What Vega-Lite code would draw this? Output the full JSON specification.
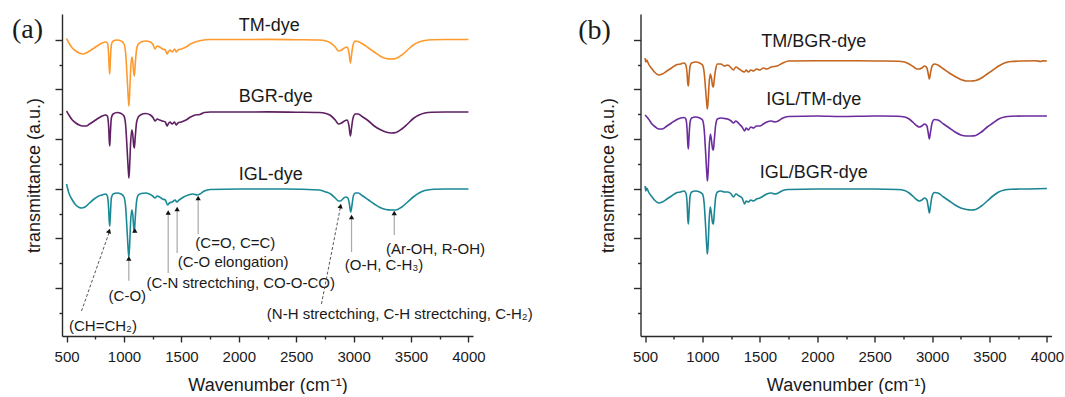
{
  "$schema": "https://vega.github.io/schema/vega-lite/v6.json",
  "background": "white",
  "padding": {"left": 12, "top": 14, "right": 0, "bottom": 0},
  "config": {
    "font": "Liberation Sans",
    "view": {"stroke": null},
    "axis": {"grid": false, "domainColor": "#2a2a2a", "tickColor": "#2a2a2a", "domainWidth": 1.4, "tickWidth": 1.4, "labelColor": "#1a1a1a", "titleColor": "#1a1a1a", "labelFontSize": 15, "titleFontSize": 18, "titleFontWeight": "normal"}
  },
  "resolve": {"scale": {"color": "independent"}},
  "datasets": {
    "spectraA": [
      {"sample":"TM-dye","wavenumber":500,"transmittance":2.975},{"sample":"TM-dye","wavenumber":520,"transmittance":2.93},{"sample":"TM-dye","wavenumber":550,"transmittance":2.88},{"sample":"TM-dye","wavenumber":580,"transmittance":2.85},{"sample":"TM-dye","wavenumber":610,"transmittance":2.83},{"sample":"TM-dye","wavenumber":640,"transmittance":2.82},{"sample":"TM-dye","wavenumber":670,"transmittance":2.83},{"sample":"TM-dye","wavenumber":700,"transmittance":2.85},{"sample":"TM-dye","wavenumber":740,"transmittance":2.88},{"sample":"TM-dye","wavenumber":780,"transmittance":2.91},{"sample":"TM-dye","wavenumber":810,"transmittance":2.93},{"sample":"TM-dye","wavenumber":840,"transmittance":2.94},{"sample":"TM-dye","wavenumber":855,"transmittance":2.93},{"sample":"TM-dye","wavenumber":866,"transmittance":2.82},{"sample":"TM-dye","wavenumber":872,"transmittance":2.67},{"sample":"TM-dye","wavenumber":876,"transmittance":2.62},{"sample":"TM-dye","wavenumber":881,"transmittance":2.75},{"sample":"TM-dye","wavenumber":890,"transmittance":2.91},{"sample":"TM-dye","wavenumber":905,"transmittance":2.95},{"sample":"TM-dye","wavenumber":940,"transmittance":2.96},{"sample":"TM-dye","wavenumber":975,"transmittance":2.95},{"sample":"TM-dye","wavenumber":1000,"transmittance":2.92},{"sample":"TM-dye","wavenumber":1015,"transmittance":2.82},{"sample":"TM-dye","wavenumber":1028,"transmittance":2.57},{"sample":"TM-dye","wavenumber":1038,"transmittance":2.37},{"sample":"TM-dye","wavenumber":1043,"transmittance":2.30},{"sample":"TM-dye","wavenumber":1050,"transmittance":2.45},{"sample":"TM-dye","wavenumber":1058,"transmittance":2.67},{"sample":"TM-dye","wavenumber":1068,"transmittance":2.79},{"sample":"TM-dye","wavenumber":1076,"transmittance":2.75},{"sample":"TM-dye","wavenumber":1085,"transmittance":2.63},{"sample":"TM-dye","wavenumber":1090,"transmittance":2.60},{"sample":"TM-dye","wavenumber":1098,"transmittance":2.72},{"sample":"TM-dye","wavenumber":1110,"transmittance":2.87},{"sample":"TM-dye","wavenumber":1125,"transmittance":2.92},{"sample":"TM-dye","wavenumber":1150,"transmittance":2.94},{"sample":"TM-dye","wavenumber":1190,"transmittance":2.95},{"sample":"TM-dye","wavenumber":1230,"transmittance":2.94},{"sample":"TM-dye","wavenumber":1255,"transmittance":2.91},{"sample":"TM-dye","wavenumber":1270,"transmittance":2.87},{"sample":"TM-dye","wavenumber":1290,"transmittance":2.90},{"sample":"TM-dye","wavenumber":1310,"transmittance":2.89},{"sample":"TM-dye","wavenumber":1335,"transmittance":2.87},{"sample":"TM-dye","wavenumber":1360,"transmittance":2.86},{"sample":"TM-dye","wavenumber":1375,"transmittance":2.82},{"sample":"TM-dye","wavenumber":1385,"transmittance":2.84},{"sample":"TM-dye","wavenumber":1400,"transmittance":2.86},{"sample":"TM-dye","wavenumber":1420,"transmittance":2.84},{"sample":"TM-dye","wavenumber":1440,"transmittance":2.87},{"sample":"TM-dye","wavenumber":1455,"transmittance":2.84},{"sample":"TM-dye","wavenumber":1470,"transmittance":2.86},{"sample":"TM-dye","wavenumber":1500,"transmittance":2.87},{"sample":"TM-dye","wavenumber":1540,"transmittance":2.89},{"sample":"TM-dye","wavenumber":1580,"transmittance":2.92},{"sample":"TM-dye","wavenumber":1620,"transmittance":2.94},{"sample":"TM-dye","wavenumber":1670,"transmittance":2.955},{"sample":"TM-dye","wavenumber":1750,"transmittance":2.965},{"sample":"TM-dye","wavenumber":2000,"transmittance":2.965},{"sample":"TM-dye","wavenumber":2250,"transmittance":2.966},{"sample":"TM-dye","wavenumber":2500,"transmittance":2.963},{"sample":"TM-dye","wavenumber":2700,"transmittance":2.96},{"sample":"TM-dye","wavenumber":2760,"transmittance":2.95},{"sample":"TM-dye","wavenumber":2800,"transmittance":2.93},{"sample":"TM-dye","wavenumber":2840,"transmittance":2.89},{"sample":"TM-dye","wavenumber":2870,"transmittance":2.85},{"sample":"TM-dye","wavenumber":2895,"transmittance":2.86},{"sample":"TM-dye","wavenumber":2920,"transmittance":2.88},{"sample":"TM-dye","wavenumber":2945,"transmittance":2.89},{"sample":"TM-dye","wavenumber":2960,"transmittance":2.83},{"sample":"TM-dye","wavenumber":2972,"transmittance":2.73},{"sample":"TM-dye","wavenumber":2982,"transmittance":2.81},{"sample":"TM-dye","wavenumber":2995,"transmittance":2.91},{"sample":"TM-dye","wavenumber":3015,"transmittance":2.95},{"sample":"TM-dye","wavenumber":3040,"transmittance":2.945},{"sample":"TM-dye","wavenumber":3080,"transmittance":2.92},{"sample":"TM-dye","wavenumber":3130,"transmittance":2.88},{"sample":"TM-dye","wavenumber":3180,"transmittance":2.84},{"sample":"TM-dye","wavenumber":3230,"transmittance":2.80},{"sample":"TM-dye","wavenumber":3280,"transmittance":2.775},{"sample":"TM-dye","wavenumber":3330,"transmittance":2.77},{"sample":"TM-dye","wavenumber":3370,"transmittance":2.775},{"sample":"TM-dye","wavenumber":3420,"transmittance":2.81},{"sample":"TM-dye","wavenumber":3470,"transmittance":2.86},{"sample":"TM-dye","wavenumber":3520,"transmittance":2.91},{"sample":"TM-dye","wavenumber":3570,"transmittance":2.94},{"sample":"TM-dye","wavenumber":3620,"transmittance":2.955},{"sample":"TM-dye","wavenumber":3680,"transmittance":2.963},{"sample":"TM-dye","wavenumber":3800,"transmittance":2.965},{"sample":"TM-dye","wavenumber":4000,"transmittance":2.965},
      {"sample":"BGR-dye","wavenumber":500,"transmittance":2.25},{"sample":"BGR-dye","wavenumber":520,"transmittance":2.21},{"sample":"BGR-dye","wavenumber":550,"transmittance":2.16},{"sample":"BGR-dye","wavenumber":580,"transmittance":2.13},{"sample":"BGR-dye","wavenumber":610,"transmittance":2.11},{"sample":"BGR-dye","wavenumber":640,"transmittance":2.10},{"sample":"BGR-dye","wavenumber":670,"transmittance":2.10},{"sample":"BGR-dye","wavenumber":700,"transmittance":2.12},{"sample":"BGR-dye","wavenumber":740,"transmittance":2.15},{"sample":"BGR-dye","wavenumber":780,"transmittance":2.18},{"sample":"BGR-dye","wavenumber":810,"transmittance":2.20},{"sample":"BGR-dye","wavenumber":840,"transmittance":2.21},{"sample":"BGR-dye","wavenumber":855,"transmittance":2.20},{"sample":"BGR-dye","wavenumber":866,"transmittance":2.10},{"sample":"BGR-dye","wavenumber":872,"transmittance":1.95},{"sample":"BGR-dye","wavenumber":876,"transmittance":1.90},{"sample":"BGR-dye","wavenumber":881,"transmittance":2.02},{"sample":"BGR-dye","wavenumber":890,"transmittance":2.18},{"sample":"BGR-dye","wavenumber":905,"transmittance":2.22},{"sample":"BGR-dye","wavenumber":940,"transmittance":2.235},{"sample":"BGR-dye","wavenumber":975,"transmittance":2.225},{"sample":"BGR-dye","wavenumber":1000,"transmittance":2.20},{"sample":"BGR-dye","wavenumber":1015,"transmittance":2.10},{"sample":"BGR-dye","wavenumber":1028,"transmittance":1.85},{"sample":"BGR-dye","wavenumber":1038,"transmittance":1.65},{"sample":"BGR-dye","wavenumber":1043,"transmittance":1.58},{"sample":"BGR-dye","wavenumber":1050,"transmittance":1.72},{"sample":"BGR-dye","wavenumber":1058,"transmittance":1.94},{"sample":"BGR-dye","wavenumber":1068,"transmittance":2.06},{"sample":"BGR-dye","wavenumber":1076,"transmittance":2.02},{"sample":"BGR-dye","wavenumber":1085,"transmittance":1.90},{"sample":"BGR-dye","wavenumber":1090,"transmittance":1.88},{"sample":"BGR-dye","wavenumber":1098,"transmittance":1.99},{"sample":"BGR-dye","wavenumber":1110,"transmittance":2.14},{"sample":"BGR-dye","wavenumber":1125,"transmittance":2.19},{"sample":"BGR-dye","wavenumber":1150,"transmittance":2.215},{"sample":"BGR-dye","wavenumber":1190,"transmittance":2.225},{"sample":"BGR-dye","wavenumber":1230,"transmittance":2.21},{"sample":"BGR-dye","wavenumber":1255,"transmittance":2.18},{"sample":"BGR-dye","wavenumber":1270,"transmittance":2.15},{"sample":"BGR-dye","wavenumber":1290,"transmittance":2.17},{"sample":"BGR-dye","wavenumber":1310,"transmittance":2.16},{"sample":"BGR-dye","wavenumber":1335,"transmittance":2.15},{"sample":"BGR-dye","wavenumber":1360,"transmittance":2.14},{"sample":"BGR-dye","wavenumber":1375,"transmittance":2.10},{"sample":"BGR-dye","wavenumber":1385,"transmittance":2.12},{"sample":"BGR-dye","wavenumber":1400,"transmittance":2.14},{"sample":"BGR-dye","wavenumber":1420,"transmittance":2.12},{"sample":"BGR-dye","wavenumber":1440,"transmittance":2.14},{"sample":"BGR-dye","wavenumber":1455,"transmittance":2.11},{"sample":"BGR-dye","wavenumber":1470,"transmittance":2.13},{"sample":"BGR-dye","wavenumber":1500,"transmittance":2.14},{"sample":"BGR-dye","wavenumber":1540,"transmittance":2.16},{"sample":"BGR-dye","wavenumber":1580,"transmittance":2.19},{"sample":"BGR-dye","wavenumber":1620,"transmittance":2.21},{"sample":"BGR-dye","wavenumber":1660,"transmittance":2.215},{"sample":"BGR-dye","wavenumber":1700,"transmittance":2.235},{"sample":"BGR-dye","wavenumber":1750,"transmittance":2.24},{"sample":"BGR-dye","wavenumber":2000,"transmittance":2.24},{"sample":"BGR-dye","wavenumber":2250,"transmittance":2.241},{"sample":"BGR-dye","wavenumber":2500,"transmittance":2.238},{"sample":"BGR-dye","wavenumber":2700,"transmittance":2.235},{"sample":"BGR-dye","wavenumber":2760,"transmittance":2.225},{"sample":"BGR-dye","wavenumber":2800,"transmittance":2.205},{"sample":"BGR-dye","wavenumber":2840,"transmittance":2.16},{"sample":"BGR-dye","wavenumber":2870,"transmittance":2.12},{"sample":"BGR-dye","wavenumber":2895,"transmittance":2.13},{"sample":"BGR-dye","wavenumber":2920,"transmittance":2.15},{"sample":"BGR-dye","wavenumber":2945,"transmittance":2.16},{"sample":"BGR-dye","wavenumber":2960,"transmittance":2.10},{"sample":"BGR-dye","wavenumber":2972,"transmittance":2.00},{"sample":"BGR-dye","wavenumber":2982,"transmittance":2.08},{"sample":"BGR-dye","wavenumber":2995,"transmittance":2.18},{"sample":"BGR-dye","wavenumber":3015,"transmittance":2.22},{"sample":"BGR-dye","wavenumber":3040,"transmittance":2.22},{"sample":"BGR-dye","wavenumber":3080,"transmittance":2.19},{"sample":"BGR-dye","wavenumber":3130,"transmittance":2.15},{"sample":"BGR-dye","wavenumber":3180,"transmittance":2.10},{"sample":"BGR-dye","wavenumber":3230,"transmittance":2.065},{"sample":"BGR-dye","wavenumber":3280,"transmittance":2.04},{"sample":"BGR-dye","wavenumber":3330,"transmittance":2.03},{"sample":"BGR-dye","wavenumber":3370,"transmittance":2.035},{"sample":"BGR-dye","wavenumber":3420,"transmittance":2.07},{"sample":"BGR-dye","wavenumber":3470,"transmittance":2.12},{"sample":"BGR-dye","wavenumber":3520,"transmittance":2.175},{"sample":"BGR-dye","wavenumber":3570,"transmittance":2.21},{"sample":"BGR-dye","wavenumber":3620,"transmittance":2.23},{"sample":"BGR-dye","wavenumber":3680,"transmittance":2.238},{"sample":"BGR-dye","wavenumber":3800,"transmittance":2.24},{"sample":"BGR-dye","wavenumber":4000,"transmittance":2.24},
      {"sample":"IGL-dye","wavenumber":500,"transmittance":1.52},{"sample":"IGL-dye","wavenumber":510,"transmittance":1.47},{"sample":"IGL-dye","wavenumber":520,"transmittance":1.43},{"sample":"IGL-dye","wavenumber":550,"transmittance":1.36},{"sample":"IGL-dye","wavenumber":580,"transmittance":1.31},{"sample":"IGL-dye","wavenumber":610,"transmittance":1.285},{"sample":"IGL-dye","wavenumber":630,"transmittance":1.28},{"sample":"IGL-dye","wavenumber":660,"transmittance":1.29},{"sample":"IGL-dye","wavenumber":700,"transmittance":1.33},{"sample":"IGL-dye","wavenumber":740,"transmittance":1.37},{"sample":"IGL-dye","wavenumber":780,"transmittance":1.40},{"sample":"IGL-dye","wavenumber":810,"transmittance":1.41},{"sample":"IGL-dye","wavenumber":840,"transmittance":1.42},{"sample":"IGL-dye","wavenumber":855,"transmittance":1.40},{"sample":"IGL-dye","wavenumber":866,"transmittance":1.28},{"sample":"IGL-dye","wavenumber":872,"transmittance":1.14},{"sample":"IGL-dye","wavenumber":876,"transmittance":1.10},{"sample":"IGL-dye","wavenumber":881,"transmittance":1.20},{"sample":"IGL-dye","wavenumber":890,"transmittance":1.38},{"sample":"IGL-dye","wavenumber":905,"transmittance":1.42},{"sample":"IGL-dye","wavenumber":940,"transmittance":1.43},{"sample":"IGL-dye","wavenumber":975,"transmittance":1.42},{"sample":"IGL-dye","wavenumber":1000,"transmittance":1.39},{"sample":"IGL-dye","wavenumber":1015,"transmittance":1.28},{"sample":"IGL-dye","wavenumber":1028,"transmittance":1.03},{"sample":"IGL-dye","wavenumber":1038,"transmittance":0.84},{"sample":"IGL-dye","wavenumber":1043,"transmittance":0.79},{"sample":"IGL-dye","wavenumber":1050,"transmittance":0.93},{"sample":"IGL-dye","wavenumber":1058,"transmittance":1.15},{"sample":"IGL-dye","wavenumber":1068,"transmittance":1.26},{"sample":"IGL-dye","wavenumber":1076,"transmittance":1.22},{"sample":"IGL-dye","wavenumber":1085,"transmittance":1.08},{"sample":"IGL-dye","wavenumber":1090,"transmittance":1.04},{"sample":"IGL-dye","wavenumber":1098,"transmittance":1.18},{"sample":"IGL-dye","wavenumber":1110,"transmittance":1.35},{"sample":"IGL-dye","wavenumber":1125,"transmittance":1.41},{"sample":"IGL-dye","wavenumber":1150,"transmittance":1.425},{"sample":"IGL-dye","wavenumber":1190,"transmittance":1.43},{"sample":"IGL-dye","wavenumber":1220,"transmittance":1.42},{"sample":"IGL-dye","wavenumber":1250,"transmittance":1.40},{"sample":"IGL-dye","wavenumber":1270,"transmittance":1.38},{"sample":"IGL-dye","wavenumber":1290,"transmittance":1.40},{"sample":"IGL-dye","wavenumber":1310,"transmittance":1.39},{"sample":"IGL-dye","wavenumber":1335,"transmittance":1.37},{"sample":"IGL-dye","wavenumber":1360,"transmittance":1.36},{"sample":"IGL-dye","wavenumber":1380,"transmittance":1.31},{"sample":"IGL-dye","wavenumber":1395,"transmittance":1.33},{"sample":"IGL-dye","wavenumber":1420,"transmittance":1.34},{"sample":"IGL-dye","wavenumber":1445,"transmittance":1.36},{"sample":"IGL-dye","wavenumber":1460,"transmittance":1.34},{"sample":"IGL-dye","wavenumber":1480,"transmittance":1.36},{"sample":"IGL-dye","wavenumber":1520,"transmittance":1.39},{"sample":"IGL-dye","wavenumber":1560,"transmittance":1.41},{"sample":"IGL-dye","wavenumber":1600,"transmittance":1.42},{"sample":"IGL-dye","wavenumber":1640,"transmittance":1.41},{"sample":"IGL-dye","wavenumber":1660,"transmittance":1.42},{"sample":"IGL-dye","wavenumber":1700,"transmittance":1.45},{"sample":"IGL-dye","wavenumber":1750,"transmittance":1.465},{"sample":"IGL-dye","wavenumber":2000,"transmittance":1.47},{"sample":"IGL-dye","wavenumber":2400,"transmittance":1.47},{"sample":"IGL-dye","wavenumber":2700,"transmittance":1.46},{"sample":"IGL-dye","wavenumber":2760,"transmittance":1.44},{"sample":"IGL-dye","wavenumber":2800,"transmittance":1.42},{"sample":"IGL-dye","wavenumber":2840,"transmittance":1.38},{"sample":"IGL-dye","wavenumber":2870,"transmittance":1.35},{"sample":"IGL-dye","wavenumber":2887,"transmittance":1.35},{"sample":"IGL-dye","wavenumber":2905,"transmittance":1.37},{"sample":"IGL-dye","wavenumber":2930,"transmittance":1.39},{"sample":"IGL-dye","wavenumber":2950,"transmittance":1.38},{"sample":"IGL-dye","wavenumber":2962,"transmittance":1.33},{"sample":"IGL-dye","wavenumber":2975,"transmittance":1.24},{"sample":"IGL-dye","wavenumber":2985,"transmittance":1.30},{"sample":"IGL-dye","wavenumber":2998,"transmittance":1.40},{"sample":"IGL-dye","wavenumber":3015,"transmittance":1.43},{"sample":"IGL-dye","wavenumber":3040,"transmittance":1.43},{"sample":"IGL-dye","wavenumber":3080,"transmittance":1.40},{"sample":"IGL-dye","wavenumber":3130,"transmittance":1.36},{"sample":"IGL-dye","wavenumber":3180,"transmittance":1.32},{"sample":"IGL-dye","wavenumber":3230,"transmittance":1.285},{"sample":"IGL-dye","wavenumber":3280,"transmittance":1.265},{"sample":"IGL-dye","wavenumber":3330,"transmittance":1.26},{"sample":"IGL-dye","wavenumber":3370,"transmittance":1.26},{"sample":"IGL-dye","wavenumber":3420,"transmittance":1.29},{"sample":"IGL-dye","wavenumber":3470,"transmittance":1.34},{"sample":"IGL-dye","wavenumber":3520,"transmittance":1.39},{"sample":"IGL-dye","wavenumber":3570,"transmittance":1.43},{"sample":"IGL-dye","wavenumber":3620,"transmittance":1.455},{"sample":"IGL-dye","wavenumber":3700,"transmittance":1.468},{"sample":"IGL-dye","wavenumber":3800,"transmittance":1.47},{"sample":"IGL-dye","wavenumber":4000,"transmittance":1.47}
    ],
    "spectraB": [
      {"sample":"TM/BGR-dye","wavenumber":500,"transmittance":2.78},{"sample":"TM/BGR-dye","wavenumber":505,"transmittance":2.74},{"sample":"TM/BGR-dye","wavenumber":515,"transmittance":2.76},{"sample":"TM/BGR-dye","wavenumber":530,"transmittance":2.72},{"sample":"TM/BGR-dye","wavenumber":560,"transmittance":2.67},{"sample":"TM/BGR-dye","wavenumber":590,"transmittance":2.63},{"sample":"TM/BGR-dye","wavenumber":620,"transmittance":2.61},{"sample":"TM/BGR-dye","wavenumber":650,"transmittance":2.62},{"sample":"TM/BGR-dye","wavenumber":690,"transmittance":2.65},{"sample":"TM/BGR-dye","wavenumber":730,"transmittance":2.68},{"sample":"TM/BGR-dye","wavenumber":770,"transmittance":2.71},{"sample":"TM/BGR-dye","wavenumber":810,"transmittance":2.72},{"sample":"TM/BGR-dye","wavenumber":840,"transmittance":2.73},{"sample":"TM/BGR-dye","wavenumber":855,"transmittance":2.71},{"sample":"TM/BGR-dye","wavenumber":866,"transmittance":2.62},{"sample":"TM/BGR-dye","wavenumber":872,"transmittance":2.52},{"sample":"TM/BGR-dye","wavenumber":877,"transmittance":2.50},{"sample":"TM/BGR-dye","wavenumber":882,"transmittance":2.58},{"sample":"TM/BGR-dye","wavenumber":892,"transmittance":2.70},{"sample":"TM/BGR-dye","wavenumber":905,"transmittance":2.73},{"sample":"TM/BGR-dye","wavenumber":940,"transmittance":2.74},{"sample":"TM/BGR-dye","wavenumber":975,"transmittance":2.73},{"sample":"TM/BGR-dye","wavenumber":1000,"transmittance":2.71},{"sample":"TM/BGR-dye","wavenumber":1015,"transmittance":2.63},{"sample":"TM/BGR-dye","wavenumber":1028,"transmittance":2.45},{"sample":"TM/BGR-dye","wavenumber":1038,"transmittance":2.31},{"sample":"TM/BGR-dye","wavenumber":1043,"transmittance":2.27},{"sample":"TM/BGR-dye","wavenumber":1050,"transmittance":2.37},{"sample":"TM/BGR-dye","wavenumber":1058,"transmittance":2.53},{"sample":"TM/BGR-dye","wavenumber":1068,"transmittance":2.62},{"sample":"TM/BGR-dye","wavenumber":1078,"transmittance":2.58},{"sample":"TM/BGR-dye","wavenumber":1088,"transmittance":2.50},{"sample":"TM/BGR-dye","wavenumber":1095,"transmittance":2.49},{"sample":"TM/BGR-dye","wavenumber":1102,"transmittance":2.56},{"sample":"TM/BGR-dye","wavenumber":1115,"transmittance":2.67},{"sample":"TM/BGR-dye","wavenumber":1130,"transmittance":2.72},{"sample":"TM/BGR-dye","wavenumber":1160,"transmittance":2.72},{"sample":"TM/BGR-dye","wavenumber":1190,"transmittance":2.70},{"sample":"TM/BGR-dye","wavenumber":1220,"transmittance":2.71},{"sample":"TM/BGR-dye","wavenumber":1250,"transmittance":2.68},{"sample":"TM/BGR-dye","wavenumber":1270,"transmittance":2.66},{"sample":"TM/BGR-dye","wavenumber":1290,"transmittance":2.69},{"sample":"TM/BGR-dye","wavenumber":1320,"transmittance":2.67},{"sample":"TM/BGR-dye","wavenumber":1345,"transmittance":2.65},{"sample":"TM/BGR-dye","wavenumber":1367,"transmittance":2.64},{"sample":"TM/BGR-dye","wavenumber":1380,"transmittance":2.66},{"sample":"TM/BGR-dye","wavenumber":1400,"transmittance":2.64},{"sample":"TM/BGR-dye","wavenumber":1420,"transmittance":2.66},{"sample":"TM/BGR-dye","wavenumber":1445,"transmittance":2.65},{"sample":"TM/BGR-dye","wavenumber":1470,"transmittance":2.67},{"sample":"TM/BGR-dye","wavenumber":1500,"transmittance":2.66},{"sample":"TM/BGR-dye","wavenumber":1530,"transmittance":2.68},{"sample":"TM/BGR-dye","wavenumber":1560,"transmittance":2.67},{"sample":"TM/BGR-dye","wavenumber":1600,"transmittance":2.69},{"sample":"TM/BGR-dye","wavenumber":1650,"transmittance":2.70},{"sample":"TM/BGR-dye","wavenumber":1700,"transmittance":2.73},{"sample":"TM/BGR-dye","wavenumber":1750,"transmittance":2.75},{"sample":"TM/BGR-dye","wavenumber":2000,"transmittance":2.752},{"sample":"TM/BGR-dye","wavenumber":2300,"transmittance":2.752},{"sample":"TM/BGR-dye","wavenumber":2500,"transmittance":2.75},{"sample":"TM/BGR-dye","wavenumber":2700,"transmittance":2.748},{"sample":"TM/BGR-dye","wavenumber":2760,"transmittance":2.74},{"sample":"TM/BGR-dye","wavenumber":2800,"transmittance":2.72},{"sample":"TM/BGR-dye","wavenumber":2840,"transmittance":2.69},{"sample":"TM/BGR-dye","wavenumber":2870,"transmittance":2.67},{"sample":"TM/BGR-dye","wavenumber":2888,"transmittance":2.67},{"sample":"TM/BGR-dye","wavenumber":2910,"transmittance":2.68},{"sample":"TM/BGR-dye","wavenumber":2935,"transmittance":2.70},{"sample":"TM/BGR-dye","wavenumber":2955,"transmittance":2.68},{"sample":"TM/BGR-dye","wavenumber":2965,"transmittance":2.63},{"sample":"TM/BGR-dye","wavenumber":2976,"transmittance":2.57},{"sample":"TM/BGR-dye","wavenumber":2986,"transmittance":2.63},{"sample":"TM/BGR-dye","wavenumber":3000,"transmittance":2.70},{"sample":"TM/BGR-dye","wavenumber":3020,"transmittance":2.72},{"sample":"TM/BGR-dye","wavenumber":3050,"transmittance":2.71},{"sample":"TM/BGR-dye","wavenumber":3100,"transmittance":2.67},{"sample":"TM/BGR-dye","wavenumber":3150,"transmittance":2.63},{"sample":"TM/BGR-dye","wavenumber":3200,"transmittance":2.595},{"sample":"TM/BGR-dye","wavenumber":3250,"transmittance":2.565},{"sample":"TM/BGR-dye","wavenumber":3300,"transmittance":2.55},{"sample":"TM/BGR-dye","wavenumber":3340,"transmittance":2.55},{"sample":"TM/BGR-dye","wavenumber":3380,"transmittance":2.555},{"sample":"TM/BGR-dye","wavenumber":3430,"transmittance":2.58},{"sample":"TM/BGR-dye","wavenumber":3480,"transmittance":2.62},{"sample":"TM/BGR-dye","wavenumber":3530,"transmittance":2.66},{"sample":"TM/BGR-dye","wavenumber":3580,"transmittance":2.70},{"sample":"TM/BGR-dye","wavenumber":3630,"transmittance":2.73},{"sample":"TM/BGR-dye","wavenumber":3690,"transmittance":2.745},{"sample":"TM/BGR-dye","wavenumber":3800,"transmittance":2.75},{"sample":"TM/BGR-dye","wavenumber":3900,"transmittance":2.752},{"sample":"TM/BGR-dye","wavenumber":3950,"transmittance":2.745},{"sample":"TM/BGR-dye","wavenumber":3960,"transmittance":2.752},{"sample":"TM/BGR-dye","wavenumber":4000,"transmittance":2.75},
      {"sample":"IGL/TM-dye","wavenumber":500,"transmittance":2.21},{"sample":"IGL/TM-dye","wavenumber":530,"transmittance":2.17},{"sample":"IGL/TM-dye","wavenumber":560,"transmittance":2.12},{"sample":"IGL/TM-dye","wavenumber":590,"transmittance":2.09},{"sample":"IGL/TM-dye","wavenumber":620,"transmittance":2.07},{"sample":"IGL/TM-dye","wavenumber":650,"transmittance":2.07},{"sample":"IGL/TM-dye","wavenumber":690,"transmittance":2.10},{"sample":"IGL/TM-dye","wavenumber":730,"transmittance":2.13},{"sample":"IGL/TM-dye","wavenumber":770,"transmittance":2.16},{"sample":"IGL/TM-dye","wavenumber":810,"transmittance":2.18},{"sample":"IGL/TM-dye","wavenumber":840,"transmittance":2.185},{"sample":"IGL/TM-dye","wavenumber":855,"transmittance":2.17},{"sample":"IGL/TM-dye","wavenumber":866,"transmittance":2.06},{"sample":"IGL/TM-dye","wavenumber":872,"transmittance":1.92},{"sample":"IGL/TM-dye","wavenumber":877,"transmittance":1.87},{"sample":"IGL/TM-dye","wavenumber":882,"transmittance":1.98},{"sample":"IGL/TM-dye","wavenumber":892,"transmittance":2.14},{"sample":"IGL/TM-dye","wavenumber":905,"transmittance":2.18},{"sample":"IGL/TM-dye","wavenumber":940,"transmittance":2.19},{"sample":"IGL/TM-dye","wavenumber":975,"transmittance":2.18},{"sample":"IGL/TM-dye","wavenumber":1000,"transmittance":2.16},{"sample":"IGL/TM-dye","wavenumber":1015,"transmittance":2.06},{"sample":"IGL/TM-dye","wavenumber":1028,"transmittance":1.82},{"sample":"IGL/TM-dye","wavenumber":1038,"transmittance":1.62},{"sample":"IGL/TM-dye","wavenumber":1043,"transmittance":1.55},{"sample":"IGL/TM-dye","wavenumber":1050,"transmittance":1.66},{"sample":"IGL/TM-dye","wavenumber":1058,"transmittance":1.88},{"sample":"IGL/TM-dye","wavenumber":1068,"transmittance":2.02},{"sample":"IGL/TM-dye","wavenumber":1078,"transmittance":1.96},{"sample":"IGL/TM-dye","wavenumber":1088,"transmittance":1.87},{"sample":"IGL/TM-dye","wavenumber":1095,"transmittance":1.86},{"sample":"IGL/TM-dye","wavenumber":1102,"transmittance":1.95},{"sample":"IGL/TM-dye","wavenumber":1115,"transmittance":2.11},{"sample":"IGL/TM-dye","wavenumber":1130,"transmittance":2.17},{"sample":"IGL/TM-dye","wavenumber":1160,"transmittance":2.18},{"sample":"IGL/TM-dye","wavenumber":1190,"transmittance":2.175},{"sample":"IGL/TM-dye","wavenumber":1220,"transmittance":2.17},{"sample":"IGL/TM-dye","wavenumber":1250,"transmittance":2.15},{"sample":"IGL/TM-dye","wavenumber":1270,"transmittance":2.13},{"sample":"IGL/TM-dye","wavenumber":1290,"transmittance":2.15},{"sample":"IGL/TM-dye","wavenumber":1320,"transmittance":2.12},{"sample":"IGL/TM-dye","wavenumber":1345,"transmittance":2.09},{"sample":"IGL/TM-dye","wavenumber":1367,"transmittance":2.05},{"sample":"IGL/TM-dye","wavenumber":1380,"transmittance":2.08},{"sample":"IGL/TM-dye","wavenumber":1400,"transmittance":2.06},{"sample":"IGL/TM-dye","wavenumber":1420,"transmittance":2.09},{"sample":"IGL/TM-dye","wavenumber":1445,"transmittance":2.08},{"sample":"IGL/TM-dye","wavenumber":1470,"transmittance":2.10},{"sample":"IGL/TM-dye","wavenumber":1500,"transmittance":2.10},{"sample":"IGL/TM-dye","wavenumber":1530,"transmittance":2.12},{"sample":"IGL/TM-dye","wavenumber":1560,"transmittance":2.14},{"sample":"IGL/TM-dye","wavenumber":1600,"transmittance":2.15},{"sample":"IGL/TM-dye","wavenumber":1630,"transmittance":2.14},{"sample":"IGL/TM-dye","wavenumber":1660,"transmittance":2.15},{"sample":"IGL/TM-dye","wavenumber":1700,"transmittance":2.18},{"sample":"IGL/TM-dye","wavenumber":1750,"transmittance":2.195},{"sample":"IGL/TM-dye","wavenumber":2000,"transmittance":2.20},{"sample":"IGL/TM-dye","wavenumber":2200,"transmittance":2.195},{"sample":"IGL/TM-dye","wavenumber":2500,"transmittance":2.20},{"sample":"IGL/TM-dye","wavenumber":2700,"transmittance":2.198},{"sample":"IGL/TM-dye","wavenumber":2760,"transmittance":2.19},{"sample":"IGL/TM-dye","wavenumber":2800,"transmittance":2.17},{"sample":"IGL/TM-dye","wavenumber":2840,"transmittance":2.13},{"sample":"IGL/TM-dye","wavenumber":2870,"transmittance":2.10},{"sample":"IGL/TM-dye","wavenumber":2888,"transmittance":2.09},{"sample":"IGL/TM-dye","wavenumber":2910,"transmittance":2.10},{"sample":"IGL/TM-dye","wavenumber":2935,"transmittance":2.12},{"sample":"IGL/TM-dye","wavenumber":2955,"transmittance":2.10},{"sample":"IGL/TM-dye","wavenumber":2965,"transmittance":2.04},{"sample":"IGL/TM-dye","wavenumber":2976,"transmittance":1.97},{"sample":"IGL/TM-dye","wavenumber":2986,"transmittance":2.04},{"sample":"IGL/TM-dye","wavenumber":3000,"transmittance":2.13},{"sample":"IGL/TM-dye","wavenumber":3020,"transmittance":2.165},{"sample":"IGL/TM-dye","wavenumber":3050,"transmittance":2.16},{"sample":"IGL/TM-dye","wavenumber":3100,"transmittance":2.12},{"sample":"IGL/TM-dye","wavenumber":3150,"transmittance":2.08},{"sample":"IGL/TM-dye","wavenumber":3200,"transmittance":2.04},{"sample":"IGL/TM-dye","wavenumber":3250,"transmittance":2.01},{"sample":"IGL/TM-dye","wavenumber":3300,"transmittance":2.00},{"sample":"IGL/TM-dye","wavenumber":3340,"transmittance":2.00},{"sample":"IGL/TM-dye","wavenumber":3380,"transmittance":2.005},{"sample":"IGL/TM-dye","wavenumber":3430,"transmittance":2.04},{"sample":"IGL/TM-dye","wavenumber":3480,"transmittance":2.09},{"sample":"IGL/TM-dye","wavenumber":3530,"transmittance":2.13},{"sample":"IGL/TM-dye","wavenumber":3580,"transmittance":2.17},{"sample":"IGL/TM-dye","wavenumber":3630,"transmittance":2.19},{"sample":"IGL/TM-dye","wavenumber":3690,"transmittance":2.198},{"sample":"IGL/TM-dye","wavenumber":3800,"transmittance":2.20},{"sample":"IGL/TM-dye","wavenumber":4000,"transmittance":2.20},
      {"sample":"IGL/BGR-dye","wavenumber":500,"transmittance":1.50},{"sample":"IGL/BGR-dye","wavenumber":505,"transmittance":1.45},{"sample":"IGL/BGR-dye","wavenumber":515,"transmittance":1.48},{"sample":"IGL/BGR-dye","wavenumber":530,"transmittance":1.44},{"sample":"IGL/BGR-dye","wavenumber":560,"transmittance":1.39},{"sample":"IGL/BGR-dye","wavenumber":590,"transmittance":1.35},{"sample":"IGL/BGR-dye","wavenumber":620,"transmittance":1.33},{"sample":"IGL/BGR-dye","wavenumber":650,"transmittance":1.34},{"sample":"IGL/BGR-dye","wavenumber":690,"transmittance":1.37},{"sample":"IGL/BGR-dye","wavenumber":730,"transmittance":1.40},{"sample":"IGL/BGR-dye","wavenumber":770,"transmittance":1.43},{"sample":"IGL/BGR-dye","wavenumber":810,"transmittance":1.44},{"sample":"IGL/BGR-dye","wavenumber":840,"transmittance":1.45},{"sample":"IGL/BGR-dye","wavenumber":855,"transmittance":1.43},{"sample":"IGL/BGR-dye","wavenumber":866,"transmittance":1.33},{"sample":"IGL/BGR-dye","wavenumber":872,"transmittance":1.17},{"sample":"IGL/BGR-dye","wavenumber":877,"transmittance":1.12},{"sample":"IGL/BGR-dye","wavenumber":882,"transmittance":1.22},{"sample":"IGL/BGR-dye","wavenumber":892,"transmittance":1.40},{"sample":"IGL/BGR-dye","wavenumber":905,"transmittance":1.44},{"sample":"IGL/BGR-dye","wavenumber":940,"transmittance":1.45},{"sample":"IGL/BGR-dye","wavenumber":975,"transmittance":1.44},{"sample":"IGL/BGR-dye","wavenumber":1000,"transmittance":1.42},{"sample":"IGL/BGR-dye","wavenumber":1015,"transmittance":1.32},{"sample":"IGL/BGR-dye","wavenumber":1028,"transmittance":1.08},{"sample":"IGL/BGR-dye","wavenumber":1038,"transmittance":0.88},{"sample":"IGL/BGR-dye","wavenumber":1043,"transmittance":0.82},{"sample":"IGL/BGR-dye","wavenumber":1050,"transmittance":0.93},{"sample":"IGL/BGR-dye","wavenumber":1058,"transmittance":1.16},{"sample":"IGL/BGR-dye","wavenumber":1068,"transmittance":1.29},{"sample":"IGL/BGR-dye","wavenumber":1078,"transmittance":1.22},{"sample":"IGL/BGR-dye","wavenumber":1088,"transmittance":1.13},{"sample":"IGL/BGR-dye","wavenumber":1095,"transmittance":1.12},{"sample":"IGL/BGR-dye","wavenumber":1102,"transmittance":1.22},{"sample":"IGL/BGR-dye","wavenumber":1115,"transmittance":1.39},{"sample":"IGL/BGR-dye","wavenumber":1130,"transmittance":1.44},{"sample":"IGL/BGR-dye","wavenumber":1160,"transmittance":1.45},{"sample":"IGL/BGR-dye","wavenumber":1190,"transmittance":1.44},{"sample":"IGL/BGR-dye","wavenumber":1220,"transmittance":1.44},{"sample":"IGL/BGR-dye","wavenumber":1250,"transmittance":1.42},{"sample":"IGL/BGR-dye","wavenumber":1270,"transmittance":1.39},{"sample":"IGL/BGR-dye","wavenumber":1290,"transmittance":1.42},{"sample":"IGL/BGR-dye","wavenumber":1320,"transmittance":1.40},{"sample":"IGL/BGR-dye","wavenumber":1345,"transmittance":1.38},{"sample":"IGL/BGR-dye","wavenumber":1367,"transmittance":1.32},{"sample":"IGL/BGR-dye","wavenumber":1380,"transmittance":1.35},{"sample":"IGL/BGR-dye","wavenumber":1400,"transmittance":1.34},{"sample":"IGL/BGR-dye","wavenumber":1420,"transmittance":1.36},{"sample":"IGL/BGR-dye","wavenumber":1445,"transmittance":1.35},{"sample":"IGL/BGR-dye","wavenumber":1470,"transmittance":1.37},{"sample":"IGL/BGR-dye","wavenumber":1500,"transmittance":1.38},{"sample":"IGL/BGR-dye","wavenumber":1530,"transmittance":1.40},{"sample":"IGL/BGR-dye","wavenumber":1560,"transmittance":1.42},{"sample":"IGL/BGR-dye","wavenumber":1600,"transmittance":1.43},{"sample":"IGL/BGR-dye","wavenumber":1630,"transmittance":1.42},{"sample":"IGL/BGR-dye","wavenumber":1660,"transmittance":1.43},{"sample":"IGL/BGR-dye","wavenumber":1700,"transmittance":1.455},{"sample":"IGL/BGR-dye","wavenumber":1750,"transmittance":1.465},{"sample":"IGL/BGR-dye","wavenumber":2000,"transmittance":1.47},{"sample":"IGL/BGR-dye","wavenumber":2500,"transmittance":1.47},{"sample":"IGL/BGR-dye","wavenumber":2700,"transmittance":1.465},{"sample":"IGL/BGR-dye","wavenumber":2760,"transmittance":1.455},{"sample":"IGL/BGR-dye","wavenumber":2800,"transmittance":1.43},{"sample":"IGL/BGR-dye","wavenumber":2840,"transmittance":1.39},{"sample":"IGL/BGR-dye","wavenumber":2870,"transmittance":1.36},{"sample":"IGL/BGR-dye","wavenumber":2888,"transmittance":1.35},{"sample":"IGL/BGR-dye","wavenumber":2910,"transmittance":1.36},{"sample":"IGL/BGR-dye","wavenumber":2935,"transmittance":1.38},{"sample":"IGL/BGR-dye","wavenumber":2955,"transmittance":1.36},{"sample":"IGL/BGR-dye","wavenumber":2965,"transmittance":1.30},{"sample":"IGL/BGR-dye","wavenumber":2976,"transmittance":1.23},{"sample":"IGL/BGR-dye","wavenumber":2986,"transmittance":1.30},{"sample":"IGL/BGR-dye","wavenumber":3000,"transmittance":1.40},{"sample":"IGL/BGR-dye","wavenumber":3020,"transmittance":1.435},{"sample":"IGL/BGR-dye","wavenumber":3050,"transmittance":1.43},{"sample":"IGL/BGR-dye","wavenumber":3100,"transmittance":1.39},{"sample":"IGL/BGR-dye","wavenumber":3150,"transmittance":1.35},{"sample":"IGL/BGR-dye","wavenumber":3200,"transmittance":1.31},{"sample":"IGL/BGR-dye","wavenumber":3250,"transmittance":1.28},{"sample":"IGL/BGR-dye","wavenumber":3300,"transmittance":1.265},{"sample":"IGL/BGR-dye","wavenumber":3340,"transmittance":1.26},{"sample":"IGL/BGR-dye","wavenumber":3380,"transmittance":1.265},{"sample":"IGL/BGR-dye","wavenumber":3430,"transmittance":1.30},{"sample":"IGL/BGR-dye","wavenumber":3480,"transmittance":1.35},{"sample":"IGL/BGR-dye","wavenumber":3530,"transmittance":1.40},{"sample":"IGL/BGR-dye","wavenumber":3580,"transmittance":1.44},{"sample":"IGL/BGR-dye","wavenumber":3630,"transmittance":1.46},{"sample":"IGL/BGR-dye","wavenumber":3690,"transmittance":1.468},{"sample":"IGL/BGR-dye","wavenumber":3800,"transmittance":1.47},{"sample":"IGL/BGR-dye","wavenumber":4000,"transmittance":1.475}
    ],
    "namesA": [
      {"sample":"TM-dye","wavenumber":2000,"transmittance":3.10},
      {"sample":"BGR-dye","wavenumber":2000,"transmittance":2.39},
      {"sample":"IGL-dye","wavenumber":2000,"transmittance":1.61}
    ],
    "namesB": [
      {"sample":"TM/BGR-dye","wavenumber":1970,"transmittance":2.94},
      {"sample":"IGL/TM-dye","wavenumber":1970,"transmittance":2.36},
      {"sample":"IGL/BGR-dye","wavenumber":1970,"transmittance":1.63}
    ],
    "bands": [
      {"band":"(CH=CH₂)","wavenumber":817,"transmittance":0.10},
      {"band":"(C-O)","wavenumber":1029,"transmittance":0.403},
      {"band":"(C-N strectching, CO-O-CO)","wavenumber":2017,"transmittance":0.53},
      {"band":"(C-O elongation)","wavenumber":1951,"transmittance":0.745},
      {"band":"(C=O, C=C)","wavenumber":1970,"transmittance":0.93},
      {"band":"(N-H strectching, C-H strectching, C-H₂)","wavenumber":3402,"transmittance":0.22},
      {"band":"(O-H, C-H₃)","wavenumber":3265,"transmittance":0.71},
      {"band":"(Ar-OH, R-OH)","wavenumber":3713,"transmittance":0.87}
    ],
    "pointers": [
      {"band":"(C-O)","wavenumber":1042,"from":0.553,"to":0.76},
      {"band":"(C-N strectching, CO-O-CO)","wavenumber":1385,"from":0.63,"to":1.22},
      {"band":"(C-O elongation)","wavenumber":1463,"from":0.83,"to":1.25},
      {"band":"(C=O, C=C)","wavenumber":1646,"from":1.02,"to":1.36},
      {"band":"(O-H, C-H₃)","wavenumber":2982,"from":0.84,"to":1.18},
      {"band":"(Ar-OH, R-OH)","wavenumber":3354,"from":1.01,"to":1.22}
    ],
    "tips": [
      {"band":"(C-O)","wavenumber":1042,"transmittance":0.775},
      {"band":"(C-O)","wavenumber":1094,"transmittance":1.055},
      {"band":"(C-N strectching, CO-O-CO)","wavenumber":1385,"transmittance":1.235},
      {"band":"(C-O elongation)","wavenumber":1463,"transmittance":1.27},
      {"band":"(C=O, C=C)","wavenumber":1646,"transmittance":1.38},
      {"band":"(O-H, C-H₃)","wavenumber":2982,"transmittance":1.19},
      {"band":"(Ar-OH, R-OH)","wavenumber":3354,"transmittance":1.23}
    ],
    "leaders": [
      {"band":"(CH=CH₂)","wavenumber":630,"transmittance":0.25,"wavenumber2":869,"transmittance2":1.03},
      {"band":"(N-H strectching, C-H strectching, C-H₂)","wavenumber":2720,"transmittance":0.32,"wavenumber2":2884,"transmittance2":1.28}
    ],
    "leaderTips": [
      {"band":"(CH=CH₂)","wavenumber":871,"transmittance":1.05},
      {"band":"(N-H strectching, C-H strectching, C-H₂)","wavenumber":2886,"transmittance":1.30}
    ]
  },
  "spacing": 167.5,
  "bounds": "flush",
  "hconcat": [
    {
      "width": 411,
      "height": 322,
      "layer": [
        {
          "data": {"name": "spectraA"},
          "mark": {"type": "line", "strokeWidth": 1.6, "interpolate": "monotone"},
          "encoding": {
            "x": {"field": "wavenumber", "type": "quantitative", "scale": {"domain": [460, 4040], "nice": false, "zero": false},
                  "axis": {"orient": "bottom", "values": [500,1000,1500,2000,2500,3000,3500,4000], "format": "d", "tickSize": 6, "labelPadding": 7, "title": "Wavenumber (cm⁻¹)", "titlePadding": 12, "labelFlush": false}},
            "y": {"field": "transmittance", "type": "quantitative", "scale": {"domain": [0, 3.22], "nice": false, "zero": false},
                  "axis": {"orient": "left", "values": [0.4785,0.9755,1.4725,1.9695,2.4665,2.9635], "labels": false, "tickSize": 7, "title": "transmittance (a.u.)", "titlePadding": 11}},
            "color": {"field": "sample", "type": "nominal", "scale": {"domain": ["TM-dye","BGR-dye","IGL-dye"], "range": ["#ff9a2e","#5e1f63","#1a8996"]}, "legend": null}
          }
        },
        {
          "data": {"name": "namesA"},
          "mark": {"type": "text", "align": "left", "baseline": "middle", "fontSize": 18, "color": "#1a1a1a"},
          "encoding": {
            "x": {"field": "wavenumber", "type": "quantitative", "axis": {"orient": "bottom", "values": [750,1250,1750,2250,2750,3250,3750], "labels": false, "domain": false, "tickSize": 3, "title": null}},
            "y": {"field": "transmittance", "type": "quantitative", "axis": {"orient": "left", "values": [0.23,0.727,1.224,1.721,2.218,2.715], "labels": false, "domain": false, "tickSize": 3, "title": null}},
            "text": {"field": "sample"}
          }
        },
        {
          "data": {"name": "bands"},
          "mark": {"type": "text", "align": "center", "baseline": "middle", "fontSize": 15, "color": "#1a1a1a"},
          "encoding": {
            "x": {"field": "wavenumber", "type": "quantitative", "axis": null},
            "y": {"field": "transmittance", "type": "quantitative", "axis": null},
            "text": {"field": "band"}
          }
        },
        {
          "data": {"name": "pointers"},
          "mark": {"type": "rule", "color": "#a8a8a8", "strokeWidth": 1.2},
          "encoding": {
            "x": {"field": "wavenumber", "type": "quantitative", "axis": null},
            "y": {"field": "from", "type": "quantitative", "axis": null},
            "y2": {"field": "to"}
          }
        },
        {
          "data": {"name": "leaders"},
          "mark": {"type": "rule", "color": "#555555", "strokeWidth": 1, "strokeDash": [3, 2]},
          "encoding": {
            "x": {"field": "wavenumber", "type": "quantitative", "axis": null},
            "y": {"field": "transmittance", "type": "quantitative", "axis": null},
            "x2": {"field": "wavenumber2"},
            "y2": {"field": "transmittance2"}
          }
        },
        {
          "data": {"name": "tips"},
          "mark": {"type": "point", "shape": "triangle-up", "filled": true, "size": 28, "color": "#111111", "opacity": 1},
          "encoding": {
            "x": {"field": "wavenumber", "type": "quantitative", "axis": null},
            "y": {"field": "transmittance", "type": "quantitative", "axis": null}
          }
        },
        {
          "data": {"name": "leaderTips"},
          "transform": [{"filter": "datum.band === '(CH=CH₂)'"}],
          "mark": {"type": "point", "shape": "triangle-up", "filled": true, "size": 28, "color": "#111111", "opacity": 1, "angle": 19},
          "encoding": {
            "x": {"field": "wavenumber", "type": "quantitative", "axis": null},
            "y": {"field": "transmittance", "type": "quantitative", "axis": null}
          }
        },
        {
          "data": {"name": "leaderTips"},
          "transform": [{"filter": "datum.band !== '(CH=CH₂)'"}],
          "mark": {"type": "point", "shape": "triangle-up", "filled": true, "size": 28, "color": "#111111", "opacity": 1, "angle": 11},
          "encoding": {
            "x": {"field": "wavenumber", "type": "quantitative", "axis": null},
            "y": {"field": "transmittance", "type": "quantitative", "axis": null}
          }
        },
        {
          "data": {"values": [{"panel": "(a)", "wavenumber": 160, "transmittance": 3.065}]},
          "mark": {"type": "text", "align": "center", "baseline": "middle", "font": "Liberation Serif", "fontSize": 28, "color": "#1a1a1a"},
          "encoding": {
            "x": {"field": "wavenumber", "type": "quantitative", "axis": null},
            "y": {"field": "transmittance", "type": "quantitative", "axis": null},
            "text": {"field": "panel"}
          }
        }
      ],
      "resolve": {"axis": {"x": "independent", "y": "independent"}}
    },
    {
      "width": 411,
      "height": 322,
      "layer": [
        {
          "data": {"name": "spectraB"},
          "mark": {"type": "line", "strokeWidth": 1.6, "interpolate": "monotone"},
          "encoding": {
            "x": {"field": "wavenumber", "type": "quantitative", "scale": {"domain": [460, 4040], "nice": false, "zero": false},
                  "axis": {"orient": "bottom", "values": [500,1000,1500,2000,2500,3000,3500,4000], "format": "d", "tickSize": 6, "labelPadding": 7, "title": "Wavenumber (cm⁻¹)", "titlePadding": 12, "labelFlush": false}},
            "y": {"field": "transmittance", "type": "quantitative", "scale": {"domain": [0, 3.22], "nice": false, "zero": false},
                  "axis": {"orient": "left", "values": [0.4785,0.9755,1.4725,1.9695,2.4665,2.9635], "labels": false, "tickSize": 7, "title": "transmittance (a.u.)", "titlePadding": 15}},
            "color": {"field": "sample", "type": "nominal", "scale": {"domain": ["TM/BGR-dye","IGL/TM-dye","IGL/BGR-dye"], "range": ["#c4651f","#6a2c9e","#1b8593"]}, "legend": null}
          }
        },
        {
          "data": {"name": "namesB"},
          "mark": {"type": "text", "align": "center", "baseline": "middle", "fontSize": 18, "color": "#1a1a1a"},
          "encoding": {
            "x": {"field": "wavenumber", "type": "quantitative", "axis": {"orient": "bottom", "values": [750,1250,1750,2250,2750,3250,3750], "labels": false, "domain": false, "tickSize": 3, "title": null}},
            "y": {"field": "transmittance", "type": "quantitative", "axis": {"orient": "left", "values": [0.23,0.727,1.224,1.721,2.218,2.715], "labels": false, "domain": false, "tickSize": 3, "title": null}},
            "text": {"field": "sample"}
          }
        },
        {
          "data": {"values": [{"panel": "(b)", "wavenumber": 60, "transmittance": 3.055}]},
          "mark": {"type": "text", "align": "center", "baseline": "middle", "font": "Liberation Serif", "fontSize": 28, "color": "#1a1a1a"},
          "encoding": {
            "x": {"field": "wavenumber", "type": "quantitative", "axis": null},
            "y": {"field": "transmittance", "type": "quantitative", "axis": null},
            "text": {"field": "panel"}
          }
        }
      ],
      "resolve": {"axis": {"x": "independent", "y": "independent"}}
    }
  ]
}
